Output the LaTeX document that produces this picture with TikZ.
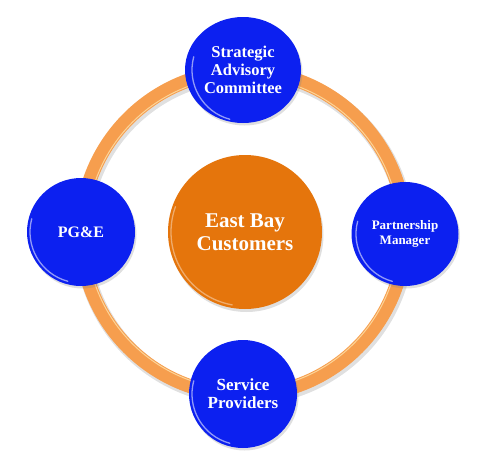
\documentclass[tikz,border=0pt]{standalone}
\usepackage{fontspec}
\setmainfont{Liberation Serif}
\usetikzlibrary{shapes.geometric,shadows}
\definecolor{ringorange}{RGB}{246,158,78}
\definecolor{ringlight}{RGB}{255,226,170}
\definecolor{nodeblue}{RGB}{12,32,240}
\definecolor{coreorange}{RGB}{229,117,12}
\tikzset{
  bluenode/.style={ellipse, fill=nodeblue, text=white, align=center, inner sep=0pt,
    font=\bfseries, drop shadow={shadow xshift=1.5pt, shadow yshift=-2.5pt, opacity=.25}},
  corenode/.style={circle, fill=coreorange, text=white, align=center, inner sep=0pt,
    minimum size=154pt, font=\bfseries\fontsize{21}{23}\selectfont,
    drop shadow={shadow xshift=1.5pt, shadow yshift=-3pt, opacity=.25}},
  rim/.style={white, opacity=.55, line width=1.3pt, line cap=round},
}
\begin{document}
\begin{tikzpicture}[x=1pt,y=-1pt]
\useasboundingbox (0,0) rectangle (484,458);
% ring
\coordinate (ringc) at (243,233);
\draw[black, opacity=.12, line width=16pt] ([shift={(1.5,2.5)}]ringc) circle[radius=162];
\draw[ringorange, line width=14pt] (ringc) circle[radius=162];
\draw[ringlight, line width=1pt, opacity=.8] (ringc) circle[radius=156.5];
% center
\node[corenode] (core) at (245,232) {East Bay\\Customers};
\draw[rim, opacity=.4] ([shift={(100:74)}]core.center) arc[start angle=100, end angle=200, radius=74];
% outer nodes
\node[bluenode, minimum width=116pt, minimum height=106pt,
  font=\bfseries\fontsize{16.5}{18}\selectfont] (sac) at (243,70) {Strategic\\Advisory\\Committee};
\node[bluenode, minimum width=107pt, minimum height=104pt,
  font=\bfseries\fontsize{13}{15}\selectfont] (pm) at (405,234) {Partnership\\Manager};
\node[bluenode, minimum width=108pt, minimum height=108pt,
  font=\bfseries\fontsize{16}{18}\selectfont] (pge) at (81,232) {PG\&E};
\node[bluenode, minimum width=108pt, minimum height=108pt,
  font=\bfseries\fontsize{17}{18}\selectfont] (sp) at (243,394) {Service\\Providers};
% rims
\draw[rim] ([shift={(105:51)}]sac.center) arc[start angle=105, end angle=195, radius=51];
\draw[rim] ([shift={(105:49)}]pm.center) arc[start angle=105, end angle=195, radius=49];
\draw[rim] ([shift={(105:51)}]pge.center) arc[start angle=105, end angle=195, radius=51];
\draw[rim] ([shift={(105:51)}]sp.center) arc[start angle=105, end angle=195, radius=51];
\end{tikzpicture}
\end{document}
